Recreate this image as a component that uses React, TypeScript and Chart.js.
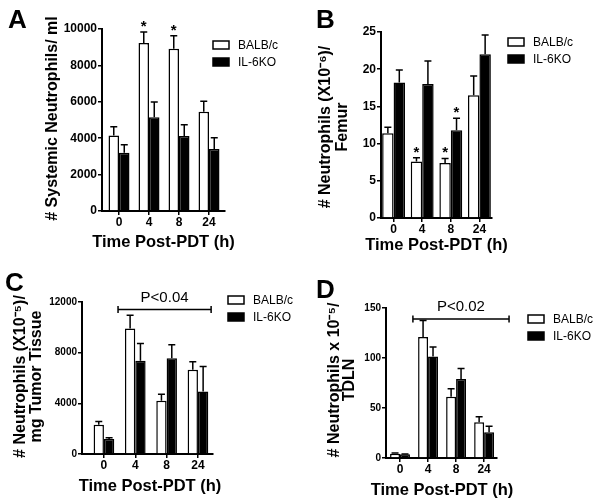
import React, { useEffect, useRef } from "react";
import { Chart, registerables } from "chart.js";

Chart.register(...registerables);

const FONT = '"Liberation Sans", Arial, Helvetica, sans-serif';

// ---------- shared ----------
const timeLabels = ["0", "4", "8", "24"];
const seriesNames = ["BALB/c", "IL-6KO"];
const xTitle = "Time Post-PDT (h)";

// ---------- Panel A: systemic neutrophils / ml ----------
const aBalb = [4150, 9230, 8910, 5460];
const aBalbSem = [480, 600, 720, 570];
const aIl6 = [3200, 5150, 4120, 3400];
const aIl6Sem = [440, 840, 620, 625];
const aYTicks = [0, 2000, 4000, 6000, 8000, 10000];
const aStars: [number, number][] = [[0, 1], [0, 2]];

// ---------- Panel B: neutrophils (x10^-6) / femur ----------
const bBalb = [11.4, 7.6, 7.4, 16.5];
const bBalbSem = [0.8, 0.5, 0.6, 2.6];
const bIl6 = [18.2, 18.0, 11.8, 22.0];
const bIl6Sem = [1.7, 3.1, 1.6, 2.6];
const bYTicks = [0, 5, 10, 15, 20, 25];
const bStars: [number, number][] = [[0, 1], [0, 2], [1, 2]];

// ---------- Panel C: neutrophils (x10^-5) / mg tumor tissue ----------
const cBalb = [2300, 9900, 4200, 6650];
const cBalbSem = [260, 1050, 520, 630];
const cIl6 = [1190, 7360, 7550, 4930];
const cIl6Sem = [100, 1370, 1080, 1980];
const cYTicks = [0, 4000, 8000, 12000];
const cBracket = { from: 0.45, to: 3.42, y: 11400, text: "P<0.04" };

// ---------- Panel D: neutrophils x 10^-5 / TDLN ----------
const dBalb = [4.3, 121, 61.3, 35.8];
const dBalbSem = [0.7, 16.6, 8, 5.4];
const dIl6 = [3.7, 101.4, 79, 25.8];
const dIl6Sem = [0.3, 9.6, 10.4, 6];
const dYTicks = [0, 50, 100, 150];
const dBracket = { from: 0.46, to: 3.89, y: 139, text: "P<0.02" };

type Panel = {
  letter: string;
  letterPos: [number, number];
  yTitle: string[];
  balb: number[];
  balbSem: number[];
  il6: number[];
  il6Sem: number[];
  yTicks: number[];
  stars: [number, number][];
  bracket?: { from: number; to: number; y: number; text: string };
  // layout (pixels)
  area: { left: number; right: number; top: number; bottom: number };
  xRange: [number, number];
  yTitleX: number[];
  yTitleY: number;
  xTitlePos: [number, number];
  yTickSize: number;
  catPct: number;
  legend: [number, number];
};

const W = 601;
const H = 504;

const panels: Panel[] = [
  {
    letter: "A", letterPos: [8, 28],
    yTitle: ["# Systemic Neutrophils/ ml"],
    balb: aBalb, balbSem: aBalbSem, il6: aIl6, il6Sem: aIl6Sem,
    yTicks: aYTicks, stars: aStars,
    area: { left: 102, right: 225, top: 29, bottom: 211 },
    xRange: [-0.567, 3.533], yTitleX: [53], yTitleY: 118.5, xTitlePos: [163.5, 242],
    yTickSize: 12, catPct: 0.7,
    legend: [213, 41],
  },
  {
    letter: "B", letterPos: [316, 28],
    yTitle: ["# Neutrophils (X10\u207B\u2076)/", "Femur"],
    balb: bBalb, balbSem: bBalbSem, il6: bIl6, il6Sem: bIl6Sem,
    yTicks: bYTicks, stars: bStars,
    area: { left: 381, right: 492, top: 32, bottom: 218 },
    xRange: [-0.44, 3.44], yTitleX: [326, 343], yTitleY: 127, xTitlePos: [436.5, 245],
    yTickSize: 12, catPct: 0.8,
    legend: [508, 38],
  },
  {
    letter: "C", letterPos: [5, 291],
    yTitle: ["# Neutrophils (X10\u207B\u2075)/", "mg Tumor Tissue"],
    balb: cBalb, balbSem: cBalbSem, il6: cIl6, il6Sem: cIl6Sem,
    yTicks: cYTicks, stars: [], bracket: cBracket,
    area: { left: 82, right: 213, top: 302, bottom: 454 },
    xRange: [-0.70, 3.48], yTitleX: [21, 36.5], yTitleY: 376.5, xTitlePos: [150, 486],
    yTickSize: 10, catPct: 0.66,
    legend: [228, 296],
  },
  {
    letter: "D", letterPos: [316, 298],
    yTitle: ["# Neutrophils x 10\u207B\u2075/", "TDLN"],
    balb: dBalb, balbSem: dBalbSem, il6: dIl6, il6Sem: dIl6Sem,
    yTicks: dYTicks, stars: [], bracket: dBracket,
    area: { left: 386, right: 497, top: 308, bottom: 458 },
    xRange: [-0.5, 3.46], yTitleX: [335, 350], yTitleY: 380, xTitlePos: [442, 490],
    yTickSize: 10, catPct: 0.71,
    legend: [528, 315],
  },
];

function makeConfig(p: Panel): any {
  const sems = [p.balbSem, p.il6Sem];
  const yScaleWidth = 50;
  const xScaleHeight = 24;

  const annotations = {
    id: "annot" + p.letter,
    afterDatasetsDraw(chart: any) {
      const ctx = chart.ctx as CanvasRenderingContext2D;
      const xs = chart.scales.x;
      const ys = chart.scales.y;
      ctx.save();
      ctx.strokeStyle = "#000";
      ctx.fillStyle = "#000";
      ctx.lineWidth = 1.5;
      const errTops: number[][] = [[], []];
      chart.data.datasets.forEach((ds: any, di: number) => {
        const meta = chart.getDatasetMeta(di);
        meta.data.forEach((el: any, i: number) => {
          const v = ds.data[i].y;
          const top = ys.getPixelForValue(v + sems[di][i]);
          errTops[di][i] = top;
          const cap = 3.5;
          ctx.beginPath();
          ctx.moveTo(el.x, el.y);
          ctx.lineTo(el.x, top);
          ctx.moveTo(el.x - cap, top);
          ctx.lineTo(el.x + cap, top);
          ctx.stroke();
        });
      });
      // significance stars
      ctx.font = `bold 15px ${FONT}`;
      ctx.textAlign = "center";
      ctx.textBaseline = "alphabetic";
      p.stars.forEach(([di, i]) => {
        const el = chart.getDatasetMeta(di).data[i];
        ctx.fillText("*", el.x, errTops[di][i] - 1);
      });
      // bracket
      if (p.bracket) {
        const x1 = xs.getPixelForValue(p.bracket.from);
        const x2 = xs.getPixelForValue(p.bracket.to);
        const y = ys.getPixelForValue(p.bracket.y);
        ctx.beginPath();
        ctx.moveTo(x1, y);
        ctx.lineTo(x2, y);
        ctx.moveTo(x1, y - 3.5);
        ctx.lineTo(x1, y + 3.5);
        ctx.moveTo(x2, y - 3.5);
        ctx.lineTo(x2, y + 3.5);
        ctx.stroke();
        ctx.font = `15px ${FONT}`;
        ctx.textBaseline = "middle";
        ctx.fillText(p.bracket.text, (x1 + x2) / 2, y - 12);
      }
      // legend
      ctx.font = `12px ${FONT}`;
      ctx.textAlign = "left";
      ctx.textBaseline = "middle";
      chart.data.datasets.forEach((ds: any, di: number) => {
        const bx = p.legend[0];
        const by = p.legend[1] + di * 17;
        ctx.fillStyle = ds.backgroundColor;
        ctx.fillRect(bx, by, 16, 8);
        ctx.lineWidth = 1.5;
        ctx.strokeStyle = "#000";
        ctx.strokeRect(bx, by, 16, 8);
        ctx.fillStyle = "#000";
        ctx.fillText(ds.label, bx + 25, by + 4.5);
      });
      // axis titles
      ctx.fillStyle = "#000";
      ctx.font = `bold 16.5px ${FONT}`;
      ctx.textAlign = "center";
      ctx.textBaseline = "middle";
      ctx.fillText(xTitle, p.xTitlePos[0], p.xTitlePos[1]);
      ctx.font = `bold 16px ${FONT}`;
      p.yTitle.forEach((line, li) => {
        ctx.save();
        ctx.translate(p.yTitleX[li], p.yTitleY);
        ctx.rotate(-Math.PI / 2);
        ctx.fillText(line, 0, 0);
        ctx.restore();
      });
      // panel letter
      ctx.font = `bold 26px ${FONT}`;
      ctx.textAlign = "left";
      ctx.textBaseline = "alphabetic";
      ctx.fillText(p.letter, p.letterPos[0], p.letterPos[1]);
      ctx.restore();
    },
  };

  const axisCommon = {
    grid: {
      display: true,
      drawOnChartArea: false,
      drawTicks: true,
      tickLength: 4,
      color: "#000",
      lineWidth: 1.5,
      offset: false,
    },
    border: { display: true, color: "#000", width: 2 },
  };

  return {
    type: "bar",
    data: {
      datasets: [
        {
          label: seriesNames[0],
          data: p.balb.map((v, i) => ({ x: i, y: v })),
          backgroundColor: "#ffffff",
          borderColor: "#000000",
          borderWidth: 1.5,
          categoryPercentage: p.catPct,
          barPercentage: 1.0,
        },
        {
          label: seriesNames[1],
          data: p.il6.map((v, i) => ({ x: i, y: v })),
          backgroundColor: "#000000",
          borderColor: "#000000",
          borderWidth: 1.5,
          categoryPercentage: p.catPct,
          barPercentage: 1.0,
        },
      ],
    },
    options: {
      responsive: false,
      maintainAspectRatio: false,
      animation: false,
      devicePixelRatio: 1,
      events: [],
      layout: {
        padding: {
          left: p.area.left - yScaleWidth,
          right: W - p.area.right,
          top: p.area.top,
          bottom: H - p.area.bottom - xScaleHeight,
        },
      },
      plugins: {
        legend: { display: false },
        tooltip: { enabled: false },
        title: { display: false },
      },
      scales: {
        x: {
          type: "linear",
          bounds: "data",
          min: p.xRange[0],
          max: p.xRange[1],
          offset: false,
          afterFit: (s: any) => {
            s.height = xScaleHeight;
          },
          afterBuildTicks: (s: any) => {
            s.ticks = timeLabels.map((_, i) => ({ value: i }));
          },
          ticks: {
            callback: (_v: any, i: number) => timeLabels[i],
            font: { size: 12, weight: "bold", family: FONT },
            color: "#000",
            padding: 0,
            maxRotation: 0,
            autoSkip: false,
          },
          title: { display: false },
          ...axisCommon,
        },
        y: {
          type: "linear",
          bounds: "data",
          min: 0,
          max: p.yTicks[p.yTicks.length - 1],
          afterFit: (s: any) => {
            s.width = yScaleWidth;
          },
          afterBuildTicks: (s: any) => {
            s.ticks = p.yTicks.map((v) => ({ value: v }));
          },
          ticks: {
            callback: (v: any) => String(v),
            font: { size: p.yTickSize, weight: "bold", family: FONT },
            color: "#000",
            padding: 1,
          },
          title: { display: false },
          ...axisCommon,
        },
      },
    },
    plugins: [annotations],
  };
}

function PanelCanvas({ panel }: { panel: Panel }) {
  const ref = useRef<HTMLCanvasElement | null>(null);
  useEffect(() => {
    if (!ref.current) return;
    const chart = new Chart(ref.current, makeConfig(panel));
    return () => chart.destroy();
  }, [panel]);
  return (
    <canvas
      ref={ref}
      width={W}
      height={H}
      style={{ position: "absolute", left: 0, top: 0, width: W, height: H }}
    />
  );
}

export default function App() {
  return (
    <div
      style={{
        position: "absolute",
        left: 0,
        top: 0,
        width: W,
        height: H,
        background: "#ffffff",
        overflow: "hidden",
      }}
    >
      {panels.map((p) => (
        <PanelCanvas key={p.letter} panel={p} />
      ))}
    </div>
  );
}
